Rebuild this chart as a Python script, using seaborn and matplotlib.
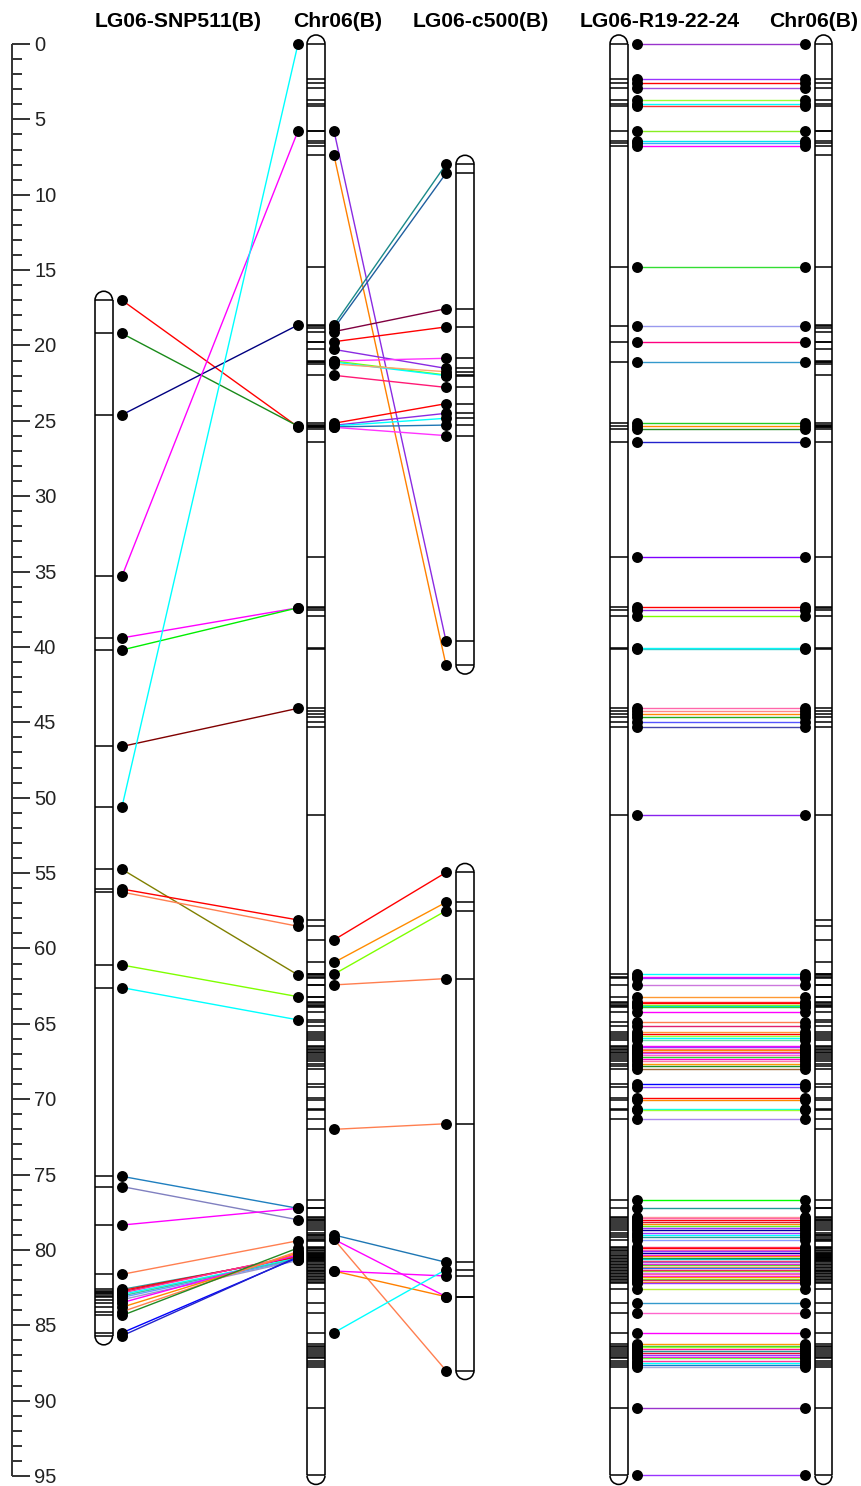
import matplotlib
matplotlib.use("Agg")
import matplotlib.pyplot as plt
import seaborn as sns
import pandas as pd
from matplotlib.patches import Arc
from matplotlib.collections import LineCollection

sns.set_theme(style="white")
plt.rcParams['font.family'] = ['Liberation Sans', 'DejaVu Sans']

# ---------------------------------------------------------------- data
titles = ["LG06-SNP511(B)", "Chr06(B)", "LG06-c500(B)", "LG06-R19-22-24", "Chr06(B)"]
ruler_max = 95

# LG06-SNP511(B) markers (cM) and their positions on Chr06(B)
snp_pos = [17.0, 19.2, 24.6, 35.3, 39.4, 40.2, 46.6, 50.6, 54.75, 56.06, 56.26,
           61.1, 62.6, 75.12, 75.8, 78.35, 81.62, 82.62, 82.70, 82.78, 82.86,
           82.95, 83.05, 83.15, 83.3, 83.5, 83.8, 84.1, 84.35, 85.5, 85.7]
snp_chr = [25.4, 25.35, 18.64, 5.77, 37.4, 37.4, 44.07, 0.0, 61.76, 58.11, 58.53,
           63.2, 64.74, 77.24, 78.0, 77.24, 79.39, 80.5, 80.45, 80.4, 80.35,
           80.55, 80.6, 80.65, 80.7, 80.3, 80.2, 80.1, 79.87, 80.5, 80.45]
snp_col = ['#ff0000', '#1a8a1a', '#000080', '#ff00ff', '#ff00ff', '#00ee00', '#800000',
           '#00ffff', '#808000', '#ff0000', '#ff7f50', '#7fff00', '#00ffff', '#1f7fbf',
           '#8080c0', '#ff00ff', '#ff7f50', '#339999', '#ff0000', '#dc143c', '#ff3399',
           '#00ffff', '#33cc99', '#6699ff', '#9999cc', '#ff00ff', '#ff8800', '#ff7f50',
           '#228b22', '#0000ff', '#2222cc']

# Chr06(B) -> LG06-c500(B) links
c500_chr = [5.77, 7.39, 18.64, 18.86, 19.08, 19.75, 20.26, 21.03, 21.03, 21.1, 21.23,
            21.98, 25.16, 25.3, 25.34, 25.4, 25.43, 59.43, 60.93, 61.71, 62.42, 72.0,
            79.01, 79.3, 79.3, 81.4, 81.4, 85.49]
c500_pos = [39.6, 41.2, 7.98, 8.58, 17.56, 18.77, 21.52, 20.85, 21.96, 22.0, 21.74,
            22.78, 23.86, 24.5, 24.83, 25.28, 25.98, 54.96, 56.94, 57.5, 62.0, 71.63,
            80.82, 83.1, 88.0, 81.73, 83.1, 81.3]
c500_col = ['#8a2be2', '#ff8000', '#1a8a8a', '#1f5f9f', '#800040', '#ff0000', '#8a2be2',
            '#ff33ff', '#7fff00', '#00ffff', '#ffa070', '#ff1a75', '#ff0000', '#8a2be2',
            '#00ffff', '#1f77b4', '#ff33ff', '#ff0000', '#ff8c00', '#7fff00', '#ff7f50',
            '#ff7f50', '#1f77b4', '#ff00ff', '#ff7f50', '#ff00ff', '#ff8000', '#00ffff']
c500_breaks = [45.0]  # gap between the two linkage groups

# LG06-R19-22-24 markers; each sits at the same position on Chr06(B)
r19_pos = [0.0, 2.30, 2.61, 2.90, 3.71, 3.96, 4.11, 5.79, 6.43, 6.59, 6.77, 14.77,
           18.69, 19.77, 21.07, 25.16, 25.34, 25.56, 26.38, 34.05, 37.37, 37.55, 37.95,
           40.05, 40.15, 44.07, 44.23, 44.45, 44.62, 44.95, 45.33, 51.15,
           61.72, 61.87, 61.97, 62.43, 63.24, 63.55, 63.64, 63.72, 63.80, 63.90, 64.19,
           64.86, 65.14, 65.52, 65.70, 65.80, 65.95, 66.05, 66.45, 66.55, 66.65, 66.75,
           66.85, 66.95, 67.05, 67.20, 67.35, 67.50, 67.65, 67.80, 68.00,
           69.01, 69.17, 69.94, 70.05, 70.67, 70.72, 71.33,
           76.71, 77.22, 77.79, 77.9, 78.02, 78.12, 78.25, 78.4, 78.57, 78.68, 78.85,
           79.0, 79.15, 79.34, 79.78, 79.9, 80.02, 80.1, 80.22, 80.31, 80.4, 80.52,
           80.6, 80.71, 80.8, 80.92, 81.0, 81.1, 81.22, 81.3, 81.41, 81.5, 81.6, 81.72,
           81.8, 81.91, 82.0, 82.1, 82.22, 82.59, 83.5, 84.2, 85.49,
           86.24, 86.35, 86.45, 86.58, 86.7, 86.82, 86.95, 87.08, 87.2, 87.35, 87.5,
           87.62, 87.75, 90.51, 94.96]
r19_col = ['#9933cc', '#9933ff', '#ff0000', '#a050e0', '#99ff33', '#00ffff', '#ff3333',
           '#88ee22', '#00e5ee', '#33aaff', '#ff00ff', '#33dd33', '#9999ee', '#ff0080',
           '#3399cc', '#22cc22', '#ff8800', '#228b22', '#2222cc', '#7f00ff', '#ff0000',
           '#8a2be2', '#7fff00', '#00ffff', '#33cccc', '#ff66aa', '#ff8888', '#ff8800',
           '#22aa22', '#5555ff', '#4444aa', '#8822ee',
           '#00ffff', '#ff00ff', '#9933ff', '#cc77dd', '#ff9933', '#ff2222', '#ff0000',
           '#7fff00', '#00dddd', '#33cc33', '#ff00ff', '#ff7f50', '#e0206f', '#ff9933',
           '#ff0000', '#99ff33', '#00ffff', '#66ddaa', '#ff00ff', '#9933ff', '#ff6699',
           '#ff8800', '#ff3333', '#cc44ff', '#ff66cc', '#33cc33', '#ff00cc', '#ff77aa',
           '#ff9900', '#228b22', '#996633',
           '#0000ff', '#8844ff', '#ff0000', '#ff8800', '#00ffff', '#99ff33', '#aa88ee',
           '#00ff00', '#229999', '#ff9999', '#ff66aa', '#ff0000', '#dc143c', '#ff8800',
           '#66ee22', '#9933ff', '#000099', '#9933ff', '#00ffff', '#229999', '#8899ff',
           '#ff3366', '#ff0000', '#ff66aa', '#9933ff', '#000099', '#ff00ff', '#ff8800',
           '#228b22', '#00cccc', '#ff3366', '#9966cc', '#ff00ff', '#66cc33', '#ff9933',
           '#3366ff', '#ff0066', '#99cc33', '#cc66ff', '#ff6699', '#ff00ff', '#ff9900',
           '#66ee22', '#cc3366', '#ff8800', '#9933ff', '#bbee33', '#3399cc',
           '#ff66cc', '#ff00ff', '#ff9900', '#33cc33', '#99ff33', '#ff1493', '#229999',
           '#dc143c', '#9933ff', '#ff00ff', '#66ff33', '#ff3399', '#00ffff', '#1177cc',
           '#aaaadd']

# ---------------------------------------------------------------- layout
PX = 15.074                      # pixels per cM
Y_TOP, Y_BOT = -44 / PX, (1486 - 44) / PX
CAP = 9.0 / PX                   # cap height of the chromosome ends

bars = {
    "snp": (95, 112.5),
    "chr": (307, 325),
    "c500": (456, 474),
    "r19": (610, 627.5),
    "chr2": (815, 832),
}
DOT = {"snp": 122, "chr_l": 298, "chr_r": 334, "c500": 446, "r19": 637, "chr2": 805}
title_x = [178.5, 337.5, 481, 659.5, 814]

fig = plt.figure(figsize=(8.61, 14.86), dpi=100)
ax = fig.add_axes([0, 0, 1, 1])
ax.set_xlim(0, 861)
ax.set_ylim(Y_BOT, Y_TOP)
ax.axis("off")


def draw_bar(x0, x1, top, bottom, markers):
    lw = 1.15
    ax.plot([x0, x0], [top, bottom], color="black", lw=lw, solid_capstyle="butt")
    ax.plot([x1, x1], [top, bottom], color="black", lw=lw, solid_capstyle="butt")
    cx, w = (x0 + x1) / 2, x1 - x0
    ax.add_patch(Arc((cx, top), w, 2 * CAP, theta1=180, theta2=360, color="black", lw=lw))
    ax.add_patch(Arc((cx, bottom), w, 2 * CAP, theta1=0, theta2=180, color="black", lw=lw))
    ax.hlines(markers, x0, x1, color="black", lw=1.1)


def draw_links(x_a, ya, x_b, yb, colors):
    segs = [[(x_a, a), (x_b, b)] for a, b in zip(ya, yb)]
    ax.add_collection(LineCollection(segs, colors=colors, linewidths=1.0, zorder=2))


def draw_dots(x, ys):
    df = pd.DataFrame({"x": [x] * len(ys), "y": ys})
    sns.scatterplot(data=df, x="x", y="y", color="black", s=62, linewidth=0,
                    ax=ax, legend=False, zorder=3)


# ruler
ax.plot([12, 12], [0, ruler_max], color="#333333", lw=1.4, solid_capstyle="butt")
for v in range(0, ruler_max + 1):
    major = v % 5 == 0
    ax.plot([12, 30 if major else 22], [v, v], color="#333333", lw=1.4,
            solid_capstyle="butt")
    if major:
        ax.text(34, v + 0.1, str(v), ha="left", va="center", fontsize=14.5,
                color="#222222", family=["Liberation Sans Narrow", "Liberation Sans"])

# chromosome bars
chr_markers = sorted(set(r19_pos) | set(snp_chr) | set(c500_chr))
draw_bar(*bars["snp"], min(snp_pos), max(snp_pos), snp_pos)
draw_bar(*bars["chr"], min(chr_markers), max(chr_markers), chr_markers)
for lo, hi in [(-1, c500_breaks[0]), (c500_breaks[0], 200)]:
    seg = [p for p in c500_pos if lo < p < hi]
    draw_bar(*bars["c500"], min(seg), max(seg), seg)
draw_bar(*bars["r19"], min(r19_pos), max(r19_pos), r19_pos)
draw_bar(*bars["chr2"], min(chr_markers), max(chr_markers), chr_markers)

# links
draw_links(DOT["snp"], snp_pos, DOT["chr_l"], snp_chr, snp_col)
draw_links(DOT["chr_r"], c500_chr, DOT["c500"], c500_pos, c500_col)
draw_links(DOT["r19"], r19_pos, DOT["chr2"], r19_pos, r19_col)

# marker dots
draw_dots(DOT["snp"], snp_pos)
draw_dots(DOT["chr_l"], snp_chr)
draw_dots(DOT["chr_r"], c500_chr)
draw_dots(DOT["c500"], c500_pos)
draw_dots(DOT["r19"], r19_pos)
draw_dots(DOT["chr2"], r19_pos)

# titles
for tx, t in zip(title_x, titles):
    ax.text(tx, -1.5, t, ha="center", va="center", fontsize=15.2, fontweight="bold",
            color="black")

ax.set_xlim(0, 861)
ax.set_ylim(Y_BOT, Y_TOP)
fig.savefig("out.png", dpi=100)
